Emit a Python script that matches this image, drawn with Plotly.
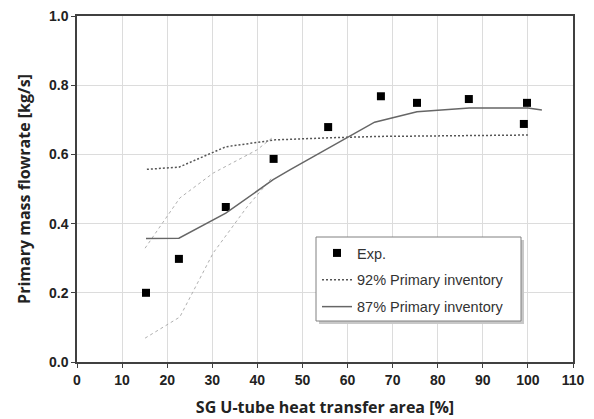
import plotly.graph_objects as go

# Experimental data
exp_x = [15.3, 22.6, 33.0, 43.6, 55.7, 67.4, 75.4, 86.9, 99.8, 99.1]
exp_y = [0.200, 0.298, 0.448, 0.587, 0.679, 0.768, 0.749, 0.760, 0.749, 0.688]

# 92% Primary inventory
p92_x = [15.5, 22.6, 33.0, 44.0, 56.0, 67.0, 76.0, 87.0, 100.0]
p92_y = [0.557, 0.563, 0.622, 0.642, 0.648, 0.652, 0.653, 0.654, 0.656]

# 87% Primary inventory
p87_x = [15.3, 22.6, 33.0, 43.5, 47.2, 60.0, 66.0, 75.4, 87.0, 100.0, 103.1]
p87_y = [0.357, 0.358, 0.430, 0.527, 0.555, 0.650, 0.693, 0.723, 0.734, 0.734, 0.728]

# Uncertainty band lines (not in legend)
up_x = [15.1, 22.8, 30.2, 39.9, 43.2]
up_y = [0.329, 0.474, 0.546, 0.613, 0.647]
lo_x = [15.1, 22.8, 30.2, 37.7, 43.2]
lo_y = [0.069, 0.130, 0.315, 0.448, 0.532]

x_ticks = list(range(0, 111, 10))
y_ticks = [0.0, 0.2, 0.4, 0.6, 0.8, 1.0]

fig = go.Figure()

fig.add_trace(go.Scatter(x=up_x, y=up_y, mode="lines", showlegend=False,
                         line=dict(color="#b0b0b0", width=1, dash="3px,3px")))
fig.add_trace(go.Scatter(x=lo_x, y=lo_y, mode="lines", showlegend=False,
                         line=dict(color="#b0b0b0", width=1, dash="3px,3px")))
fig.add_trace(go.Scatter(x=exp_x, y=exp_y, mode="markers", name="Exp.", legendgroup="a",
                         marker=dict(symbol="square", size=8, color="black")))
fig.add_trace(go.Scatter(x=p92_x, y=p92_y, mode="lines", name="92% Primary inventory",
                         legendgroup="b",
                         line=dict(color="#555555", width=1.5, dash="2px,2px")))
fig.add_trace(go.Scatter(x=p87_x, y=p87_y, mode="lines", name="87% Primary inventory",
                         legendgroup="c",
                         line=dict(color="#666666", width=1.5)))

# legend shadow and box
fig.add_shape(type="rect", xref="paper", yref="paper",
              x0=(319 - 77) / 496, x1=(524 - 77) / 496,
              y0=(362 - 324) / 346, y1=(362 - 240) / 346,
              fillcolor="#c8c8c8", line=dict(width=0), layer="above")
fig.add_shape(type="rect", xref="paper", yref="paper",
              x0=(316 - 77) / 496, x1=(521 - 77) / 496,
              y0=(362 - 321) / 346, y1=(362 - 237) / 346,
              fillcolor="white", line=dict(color="#808080", width=1), layer="above")

tickfont = dict(family="Liberation Sans, Arial", size=14, color="#222222", weight="bold")

fig.update_layout(
    width=594, height=419,
    margin=dict(l=77, r=21, t=16, b=57),
    paper_bgcolor="white", plot_bgcolor="white",
    font=dict(family="Liberation Sans, Arial", color="#222222", size=12),
    legend=dict(x=(317 - 77) / 496, y=(362 - 237) / 346, xanchor="left", yanchor="top",
                bgcolor="rgba(0,0,0,0)", borderwidth=0,
                font=dict(family="Liberation Sans, Arial", size=14.5, color="#333333"),
                tracegroupgap=5, itemwidth=30),
    xaxis=dict(range=[0, 110], tickvals=x_ticks, ticktext=[str(v) for v in x_ticks],
               showgrid=True, gridcolor="#dcdcdc", gridwidth=1,
               showline=True, linecolor="#404040", linewidth=1.5, mirror=True,
               ticks="outside", ticklen=4, tickcolor="#404040",
               tickfont=tickfont, automargin=False,
               title=dict(text="<b>SG U-tube heat transfer area [%]</b>",
                          font=dict(family="Open Sans", size=16, color="#222222"), standoff=15),
               zeroline=False),
    yaxis=dict(range=[0, 1.0], tickvals=y_ticks, ticktext=["%.1f" % v for v in y_ticks],
               showgrid=True, gridcolor="#dcdcdc", gridwidth=1,
               showline=True, linecolor="#404040", linewidth=1.5, mirror=True,
               ticks="outside", ticklen=4, tickcolor="#404040",
               tickfont=tickfont, automargin=False,
               title=dict(text="<b>Primary mass flowrate [kg/s]</b>",
                          font=dict(family="Open Sans", size=16, color="#222222"), standoff=14),
               zeroline=False),
)

fig.write_html("out.html")
